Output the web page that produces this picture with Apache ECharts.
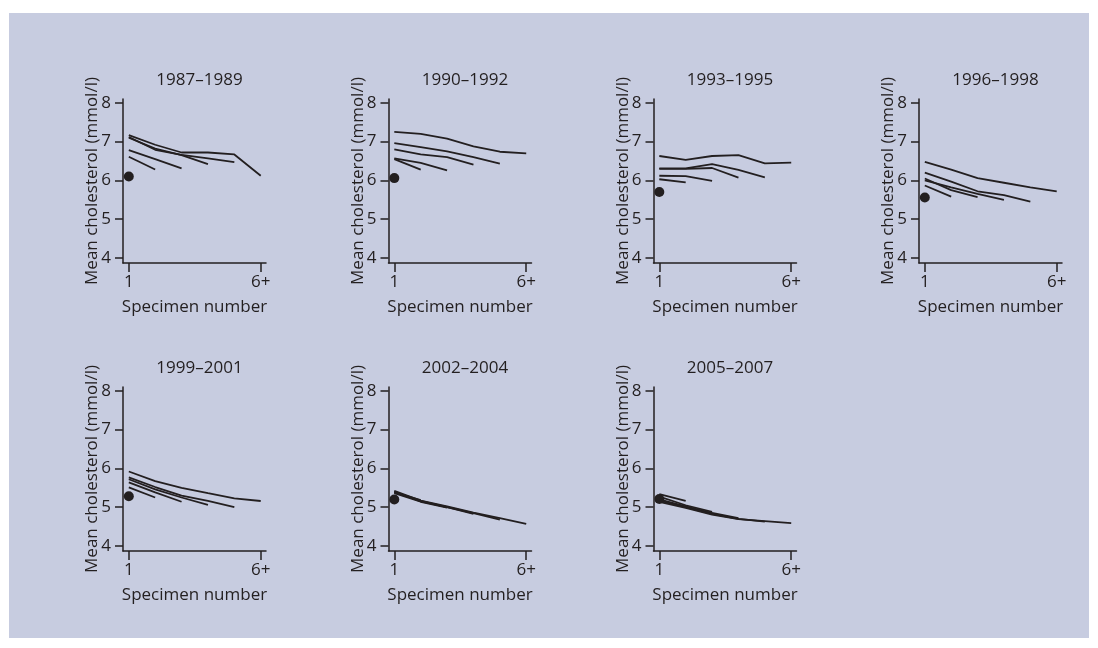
<!DOCTYPE html>
<html>
<head>
<meta charset="utf-8">
<script src="https://cdn.jsdelivr.net/npm/echarts@6/dist/echarts.min.js"></script>
<style>
html,body{margin:0;padding:0;background:#ffffff;}
#chart{width:1098px;height:648px;}
</style>
</head>
<body>
<div id="chart"></div>
<script>
// ---- data ----
const periods = ['1987–1989','1990–1992','1993–1995','1996–1998','1999–2001','2002–2004','2005–2007'];
const xTickValues = [1, 6];
const xTickLabels = ['1', '6+'];
const yTickValues = [4, 5, 6, 7, 8];
// mean cholesterol for women with only one specimen (dot)
const singleSpecimen = [6.10, 6.06, 5.70, 5.56, 5.28, 5.20, 5.21];
// each panel: lines for women with 2,3,4,5,6+ specimens (value at specimen 1..k)
const p1987 = [
  [6.61, 6.28],
  [6.78, 6.55, 6.31],
  [7.10, 6.82, 6.65, 6.42],
  [7.12, 6.79, 6.66, 6.57, 6.47],
  [7.17, 6.92, 6.72, 6.72, 6.67, 6.12]
];
const p1990 = [
  [6.55, 6.28],
  [6.57, 6.45, 6.26],
  [6.80, 6.67, 6.60, 6.41],
  [6.96, 6.86, 6.75, 6.60, 6.43],
  [7.25, 7.20, 7.08, 6.88, 6.74, 6.70]
];
const p1993 = [
  [6.03, 5.95],
  [6.12, 6.11, 5.99],
  [6.30, 6.30, 6.32, 6.07],
  [6.31, 6.31, 6.42, 6.27, 6.08],
  [6.63, 6.53, 6.63, 6.65, 6.44, 6.46]
];
const p1996 = [
  [5.87, 5.58],
  [6.05, 5.75, 5.57],
  [6.00, 5.82, 5.65, 5.50],
  [6.20, 5.97, 5.72, 5.62, 5.45],
  [6.48, 6.28, 6.06, 5.94, 5.82, 5.72]
];
const p1999 = [
  [5.51, 5.25],
  [5.64, 5.38, 5.14],
  [5.72, 5.46, 5.25, 5.06],
  [5.77, 5.52, 5.30, 5.16, 5.00],
  [5.92, 5.67, 5.50, 5.36, 5.23, 5.16]
];
const p2002 = [
  [5.38, 5.18],
  [5.36, 5.14, 4.99],
  [5.40, 5.15, 5.00, 4.83],
  [5.38, 5.16, 5.00, 4.85, 4.68],
  [5.42, 5.17, 5.02, 4.86, 4.72, 4.57]
];
const p2005 = [
  [5.34, 5.16],
  [5.27, 5.05, 4.88],
  [5.20, 5.02, 4.85, 4.72],
  [5.17, 5.00, 4.83, 4.70, 4.63],
  [5.14, 4.98, 4.81, 4.69, 4.64, 4.59]
];
const panelLines = [p1987, p1990, p1993, p1996, p1999, p2002, p2005];

// ---- layout ----
const ink = '#231f20';
const colLeft = [123, 388.5, 653.5, 919];
const rowTop = [99, 387];
const gw = 143, gh = 164;
const font = 'Open Sans';
const fs = 17;

const grids = [], xAxes = [], yAxes = [], titles = [], series = [];
periods.forEach((p, i) => {
  const c = i % 4, r = Math.floor(i / 4);
  grids.push({left: colLeft[c], top: rowTop[r], width: gw, height: gh});
  titles.push({
    text: p, left: colLeft[c] + gw / 2, top: rowTop[r] - 32, textAlign: 'center',
    textStyle: {fontFamily: font, fontSize: fs, fontWeight: 'normal', color: ink}
  });
  xAxes.push({
    type: 'value', gridIndex: i, min: 0.78, max: 6.2,
    name: 'Specimen number', nameLocation: 'middle', nameGap: 36, nameMoveOverlap: false,
    nameTextStyle: {fontFamily: font, fontSize: fs, color: ink},
    axisLine: {show: true, onZero: false, lineStyle: {color: ink, width: 1.5}},
    axisTick: {show: true, inside: false, length: 9, customValues: xTickValues, lineStyle: {color: ink, width: 1.5}},
    axisLabel: {customValues: xTickValues, margin: 11, fontFamily: font, fontSize: fs, color: ink,
      formatter: v => xTickLabels[xTickValues.indexOf(v)]},
    splitLine: {show: false}
  });
  yAxes.push({
    type: 'value', gridIndex: i, min: 3.87, max: 8.1,
    name: 'Mean cholesterol (mmol/l)', nameLocation: 'middle', nameGap: 22, nameMoveOverlap: false,
    nameTextStyle: {fontFamily: font, fontSize: fs, color: ink},
    axisLine: {show: true, onZero: false, lineStyle: {color: ink, width: 1.5}},
    axisTick: {show: true, inside: false, length: 8, customValues: yTickValues, lineStyle: {color: ink, width: 1.5}},
    axisLabel: {customValues: yTickValues, margin: 12, fontFamily: font, fontSize: fs, color: ink},
    splitLine: {show: false}
  });
  panelLines[i].forEach(vals => {
    series.push({
      type: 'line', xAxisIndex: i, yAxisIndex: i, symbol: 'none', silent: true,
      data: vals.map((v, k) => [k + 1, v]),
      lineStyle: {color: ink, width: 1.8}
    });
  });
  series.push({
    type: 'scatter', xAxisIndex: i, yAxisIndex: i, symbolSize: 10, silent: true,
    data: [[1, singleSpecimen[i]]], itemStyle: {color: ink, opacity: 1}
  });
});

const chart = echarts.init(document.getElementById('chart'), null, {renderer: 'canvas'});
chart.setOption({
  animation: false,
  backgroundColor: '#ffffff',
  graphic: [{type: 'rect', z: -10, shape: {x: 9, y: 13, width: 1080, height: 625}, style: {fill: '#c7cce0'}}],
  title: titles,
  grid: grids,
  xAxis: xAxes,
  yAxis: yAxes,
  series: series
});
</script>
</body>
</html>
